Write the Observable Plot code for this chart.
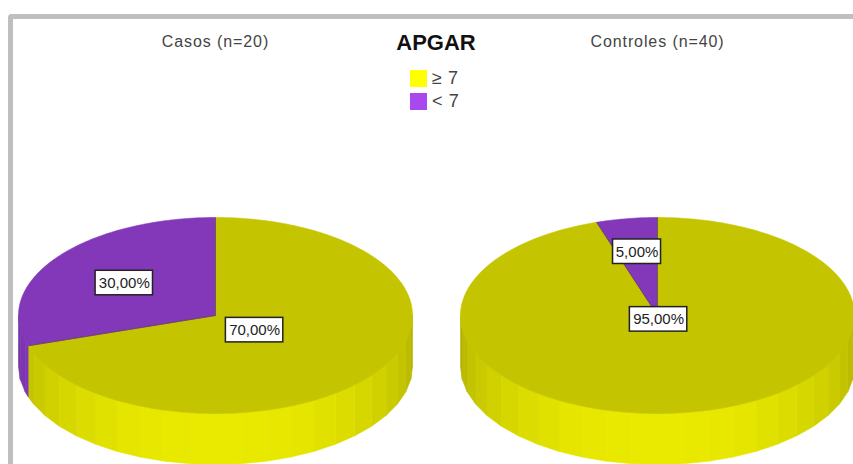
<!DOCTYPE html>
<html>
<head>
<meta charset="utf-8">
<script src="https://cdn.jsdelivr.net/npm/d3@7"></script>
<script src="https://cdn.jsdelivr.net/npm/@observablehq/plot@0.6"></script>
<style>
  html, body { margin: 0; padding: 0; background: #fff; }
  #chart { position: relative; width: 853px; height: 464px; overflow: hidden; font-family: "Liberation Sans", Arial, sans-serif; }
  #chart svg { display: block; position: absolute; left: 0; top: 0; background: transparent; }
  #frame { position: absolute; left: 8px; top: 14px; width: 860px; height: 470px; box-sizing: border-box;
           border-left: 5px solid #bfbfbf; border-top: 5px solid #bfbfbf; border-top-left-radius: 4px; }
  #title { position: absolute; left: 336px; width: 200px; top: 30px; text-align: center; font-size: 22px; font-weight: bold; color: #111; line-height: 26px; }
  #legend { position: absolute; left: 410px; top: 67px; font-size: 18px; color: #444; letter-spacing: 0.6px; }
  .entry { display: flex; align-items: center; height: 23px; }
  .swatch { width: 17px; height: 17px; margin-right: 5px; }
  g[aria-label="fx-axis tick label"] text { letter-spacing: 0.9px; }
</style>
</head>
<body>
<div id="chart"><div id="frame"></div><div id="title"></div><div id="legend"></div></div>
<script>
// Share of APGAR categories per group
const chartTitle = "APGAR";
const groups = ["Casos (n=20)", "Controles (n=40)"];
const categories = ["≥ 7", "< 7"];
const casosValues = [70, 30];
const controlesValues = [95, 5];
const baseColors = ["#ffff00", "#aa48f0"];

// Pie shape: vertical squash of the disc and wall height, in radius units
const tilt = 0.4975;
const wall = 0.259;
const topShade = 0.77;
const stripStep = 7.5;
const rad = (deg) => deg * Math.PI / 180;
const shaded = (color, k) => {
  const c = d3.rgb(color);
  return d3.rgb(c.r * k, c.g * k, c.b * k).formatHex();
};
const rim = (deg, drop = 0) => ({x: Math.sin(rad(deg)), y: tilt * Math.cos(rad(deg)) - drop});

const faces = [];
const walls = [];
const edges = [];
const labels = [];

[casosValues, controlesValues].forEach((values, g) => {
  const group = groups[g];
  let start = 0;
  values.forEach((value, c) => {
    const end = start + value * 3.6;
    const base = baseColors[c];

    // Upper face of the slice
    const id = `${g}-${c}`;
    const color = shaded(base, topShade);
    faces.push({group, id, color, x: 0, y: 0});
    for (let a = start; a < end; a += 1) faces.push({group, id, color, ...rim(a)});
    faces.push({group, id, color, ...rim(end)});
    edges.push({group, ...rim(start)});

    // Front wall in narrow shaded strips, brightest facing the viewer
    const from = Math.max(start, 90);
    const to = Math.min(end, 270);
    for (let a = from; a < to; ) {
      const b = Math.min(to, (Math.floor(a / stripStep + 1e-6) + 1) * stripStep);
      const k = 0.69 + 0.23 * Math.abs(Math.cos(rad((a + b) / 2)));
      const stripColor = shaded(base, k);
      const strip = `${id}-${a}`;
      [rim(a), rim(b), rim(b, wall), rim(a, wall), rim(a)].forEach((p) =>
        walls.push({group, id: strip, color: stripColor, ...p}));
      a = b;
    }

    // Value box sits on the centroid of the circular sector
    const half = rad(value * 1.8);
    const r = (2 / 3) * Math.sin(half) / half;
    const mid = rim((start + end) / 2);
    const text = value.toFixed(2).replace(".", ",") + "%";
    const boxW = (text.length * 9.4 + 1) / 197;
    const boxH = 24.5 / 197;
    const x = r * mid.x;
    const y = r * mid.y;
    labels.push({group, text, x, y, x1: x - boxW / 2, x2: x + boxW / 2, y1: y - boxH / 2, y2: y + boxH / 2});

    start = end;
  });
});

const chart = Plot.plot({
  width: 853,
  height: 464,
  marginTop: 48,
  marginBottom: 0,
  marginLeft: 18,
  marginRight: -1,
  style: {background: "transparent", fontFamily: "'Liberation Sans', Arial, sans-serif"},
  fx: {domain: groups, paddingInner: 48 / 442, paddingOuter: 0, label: null},
  x: {domain: [-1, 1], axis: null},
  y: {domain: [(315 - 464) / 197, (315 - 48) / 197], axis: null},
  marks: [
    Plot.axisFx({anchor: "top", label: null, tickSize: 0, tickPadding: 0, fontSize: 16, fill: "#444", dy: -2, lineAnchor: "bottom"}),
    Plot.line(walls, {x: "x", y: "y", z: "id", fx: "group", fill: "color", stroke: "color", strokeWidth: 0.6, curve: "linear"}),
    Plot.line(faces, {x: "x", y: "y", z: "id", fx: "group", fill: "color", stroke: "color", strokeWidth: 0.6, curve: "linear"}),
    Plot.link(edges, {x1: 0, y1: 0, x2: "x", y2: "y", fx: "group", stroke: "#4a3a30", strokeWidth: 0.8, strokeOpacity: 0.7}),
    Plot.rect(labels, {x1: "x1", x2: "x2", y1: "y1", y2: "y2", fx: "group", dy: 0.5, fill: "#fff", stroke: "#222", strokeWidth: 1.5}),
    Plot.text(labels, {x: "x", y: "y", text: "text", fx: "group", dy: 0.5, fontSize: 15, fill: "#222"})
  ]
});

const holder = document.getElementById("chart");
holder.insertBefore(chart, holder.firstChild);

document.getElementById("title").textContent = chartTitle;
const legend = d3.select("#legend");
categories.forEach((name, i) => {
  const row = legend.append("div").attr("class", "entry");
  row.append("div").attr("class", "swatch").style("background", baseColors[i]);
  row.append("span").text(name);
});
</script>
</body>
</html>
